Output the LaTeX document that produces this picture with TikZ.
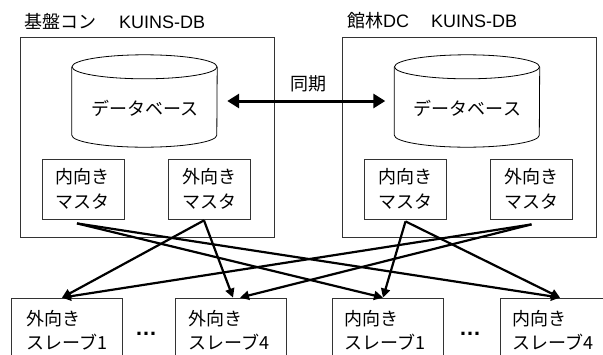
\documentclass[tikz,border=0pt]{standalone}
\usepackage{fontspec}
\usetikzlibrary{arrows.meta,calc}
\newfontfamily\jp{Noto Sans CJK JP}
\newfontfamily\lat{Liberation Sans}
\begin{document}
\begin{tikzpicture}[x=1pt,y=-1pt,
  frame/.style={draw=black!80,line width=0.8pt},
  txt/.style={font=\jp\fontsize{18}{24}\selectfont,inner sep=0pt},
  master/.style={frame,minimum width=82pt,minimum height=60pt,inner sep=0pt,align=center,font=\jp\fontsize{18}{25}\selectfont},
  slave/.style={frame,minimum width=111pt,minimum height=72pt,inner sep=0pt},
  holder/.style={minimum width=145pt,minimum height=92pt,inner sep=0pt},
  dotstxt/.style={inner sep=0pt,anchor=base,font=\lat\bfseries\fontsize{22}{22}\selectfont},
  conn/.style={line width=2.2pt,-{Triangle[length=9pt,width=9pt]}},
  sync/.style={line width=3pt,{Triangle[length=12pt,width=14pt]}-{Triangle[length=12pt,width=14pt]}}]
\useasboundingbox (0,0) rectangle (603,354);
\fill[white] (0,0) rectangle (603,354);

% outer frames and titles
\node[frame,minimum width=254pt,minimum height=200pt,inner sep=0pt] (outL) at (147,137) {};
\node[frame,minimum width=254pt,minimum height=200pt,inner sep=0pt] (outR) at (469,137) {};
\node[txt,anchor=west] (titleL) at (24,21) {基盤コン\hspace{23pt}{\lat\fontsize{18}{20}\selectfont KUINS-DB}};
\node[txt,anchor=west] (titleR) at (347,21) {館林{\lat\fontsize{18}{20}\selectfont DC}\hspace{22pt}{\lat\fontsize{18}{20}\selectfont KUINS-DB}};

% databases
\node[holder] (dbL) at (144.5,101) {};
\node[holder] (dbR) at (467,101) {};
\foreach \d in {dbL,dbR}{
  \draw[black,line width=0.8pt] ([yshift=-12pt]\d.north) ellipse [x radius=72.5pt,y radius=12pt];
  \draw[black,line width=0.8pt] ([yshift=-12pt]\d.north west) -- ([yshift=12pt]\d.south west)
     arc[start angle=180,end angle=360,x radius=72.5pt,y radius=12pt] -- ([yshift=-12pt]\d.north east);
}
\node[txt] (dbLt) at (145,108) {データベース};
\node[txt] (dbRt) at (467.5,108) {データベース};

% sync arrow
\draw[sync,shorten <=10pt,shorten >=9pt] (dbL.east) -- (dbR.west);
\node[txt] (synct) at (308,84) {同期};

% masters
\node[master] (mLin)  at (83,189)    {内向き\\マスタ};
\node[master] (mLout) at (209,189)   {外向き\\マスタ};
\node[master] (mRin)  at (405.5,189) {内向き\\マスタ};
\node[master] (mRout) at (531.5,189) {外向き\\マスタ};

% slaves
\node[slave] (sO1) at (67,334)    {};
\node[slave] (sO4) at (230.5,334) {};
\node[slave] (sI1) at (387.5,334) {};
\node[slave] (sI4) at (555.5,334) {};
\node[txt,anchor=west,align=left] (sO1t) at (26,330)  {外向き\\スレーブ1};
\node[txt,anchor=west,align=left] (sO4t) at (188,330) {外向き\\スレーブ4};
\node[txt,anchor=west,align=left] (sI1t) at (344,330) {内向き\\スレーブ1};
\node[txt,anchor=west,align=left] (sI4t) at (512,330) {内向き\\スレーブ4};
\node[dotstxt] (dots1) at (146,335) {…};
\node[dotstxt] (dots2) at (470,335) {…};

% connector end points
\coordinate (aLin)  at ([xshift=-6pt,yshift=-4pt]mLin.south);
\coordinate (aLout) at ([xshift=-5pt,yshift=-1pt]mLout.south);
\coordinate (aRin)  at ([xshift=0pt,yshift=-2pt]mRin.south);
\coordinate (aRout) at ([xshift=0pt,yshift=-5pt]mRout.south);
\coordinate (eO1)  at ([xshift=-5pt]sO1.north);
\coordinate (eO4a) at ([xshift=2.5pt]sO4.north);
\coordinate (eO4b) at ([xshift=9.5pt]sO4.north);
\coordinate (eI1)  at ([xshift=-4.5pt]sI1.north);
\coordinate (eI4)  at ([xshift=4.5pt]sI4.north);

\draw[conn] (aLin) -- (eI1);
\draw[conn] (aLin) -- (eI4);
\draw[conn] (aLout) -- (eO1);
\draw[conn] (aLout) -- (eO4a);
\draw[conn] (aRin) -- (eI1);
\draw[conn] (aRin) -- (eI4);
\draw[conn] (aRout) -- (eO1);
\draw[conn] (aRout) -- (eO4b);
\end{tikzpicture}
\end{document}
